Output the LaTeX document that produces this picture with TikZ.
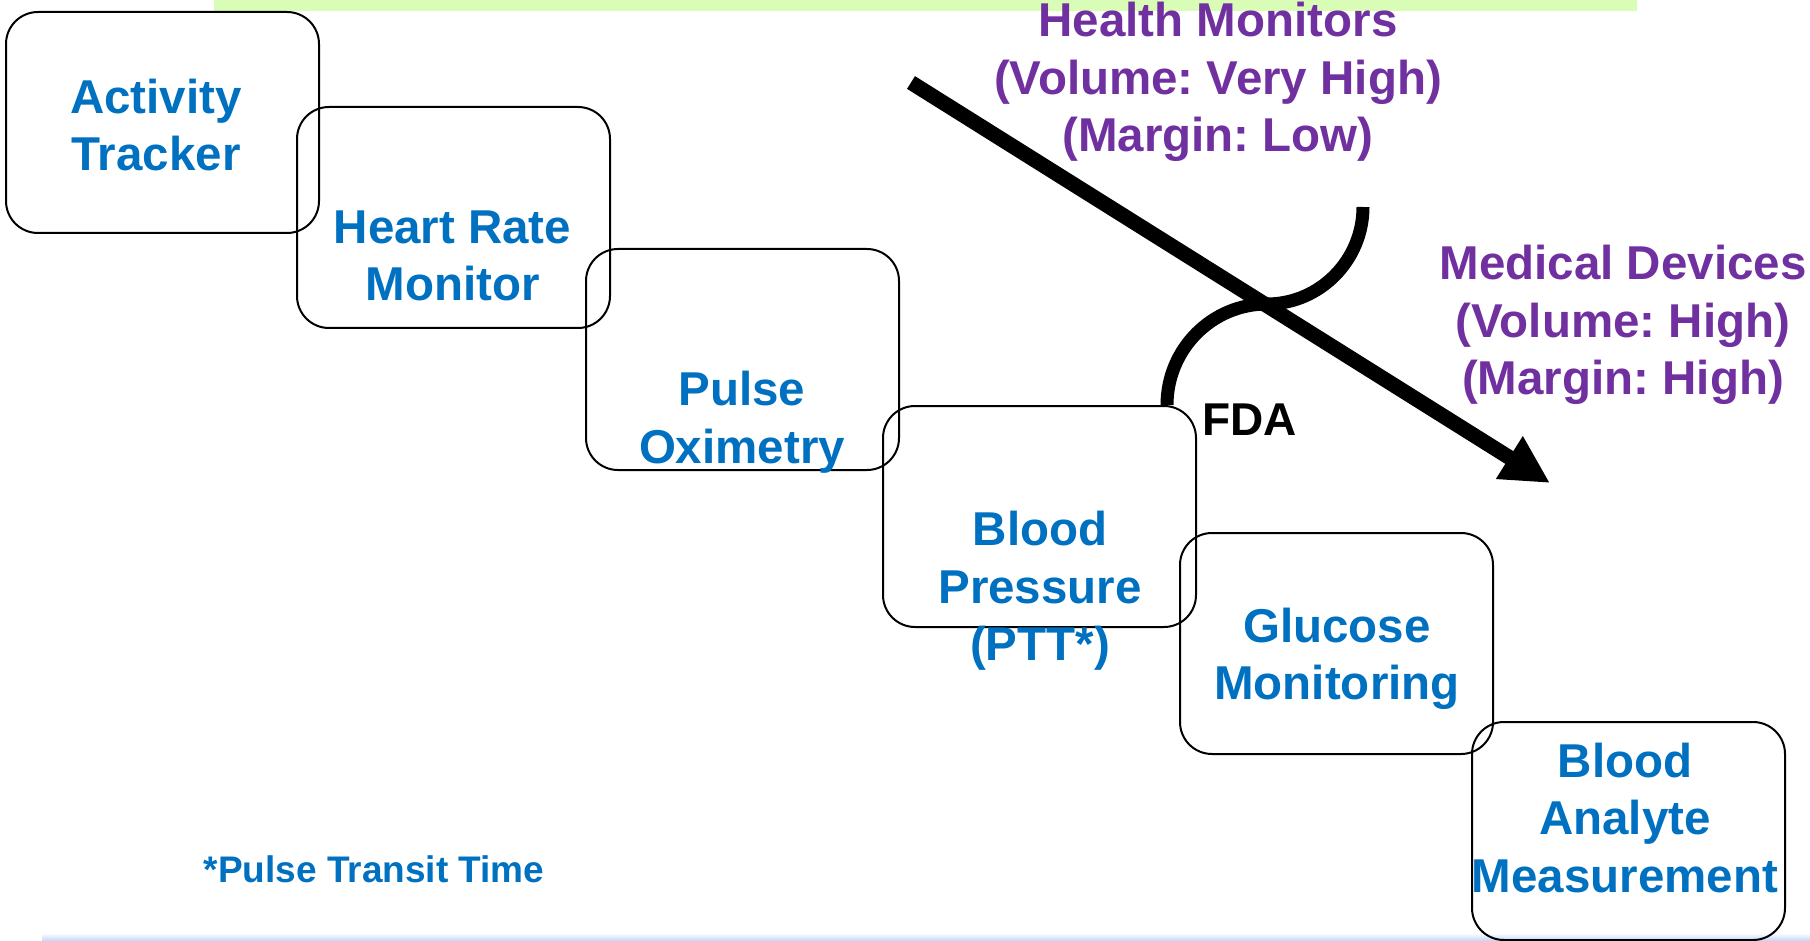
\documentclass[tikz,border=0pt]{standalone}
\usepackage{fontspec}
\setmainfont{Liberation Sans}
\usetikzlibrary{arrows.meta}
\definecolor{txtblue}{HTML}{0070C0}
\definecolor{txtpurple}{HTML}{7030A0}
\definecolor{barGreen}{HTML}{D9FCB6}
\definecolor{bandBlue}{HTML}{C2D4FA}
\frenchspacing
\begin{document}
\begin{tikzpicture}[x=1pt,y=-1pt,
  stagebox/.style={draw=black, line width=2pt, rounded corners=32pt, anchor=north west,
    minimum width=313pt, minimum height=221pt, inner sep=0pt, outer sep=0pt},
  lbl/.style={font=\bfseries\fontsize{47.5}{57.5}\selectfont, text=txtblue, align=center, inner sep=0pt},
  mkt/.style={font=\bfseries\fontsize{47.5}{57.5}\selectfont, text=txtpurple, align=center, inner sep=0pt},
  trend/.style={line width=15pt, -{Triangle[length=48pt,width=47pt]}},
  fdacurve/.style={line width=13pt}
]
\useasboundingbox (0,0) rectangle (1810,941);
% background strips
\fill[barGreen] (214,0) rectangle (1637,11);
\shade[top color=white, bottom color=bandBlue] (42,933) rectangle (1810,941);

% boxes
\node[stagebox] (b1) at (6,12) {};
\node[stagebox] (b2) at (297,107) {};
\node[stagebox] (b3) at (586,249) {};
\node[stagebox] (b4) at (883,406) {};
\node[stagebox] (b5) at (1180,533) {};
\node[stagebox, minimum height=218pt] (b6) at (1472,722) {};

% box labels
\node[lbl] (t1) at (156,125) {Activity\\Tracker};
\node[lbl] (t2) at (452.5,256) {Heart Rate\\Monitor};
\node[lbl] (t3) at (742,422) {Pulse\\Oximetry};
\node[lbl] (t4) at (1040,591) {Blood\\Pressure\\(PTT*)};
\node[lbl] (t5) at (1337,659) {Glucose\\Monitoring};
\node[lbl] (t6) at (1625,818) {Blood\\Analyte\\Measurement};

% market labels
\node[mkt] (hm) at (1218,82) {Health Monitors\\(Volume: Very High)\\(Margin: Low)};
\node[mkt] (md) at (1623,325) {Medical Devices\\(Volume: High)\\(Margin: High)};

% FDA curve
\coordinate (fa) at (1167,405);
\coordinate (fb) at (1267,304);
\coordinate (fc) at (1363,207);
\draw[fdacurve] (fa) .. controls (1167,349) and (1212,304) .. (fb)
                     .. controls (1320,304) and (1363,260) .. (fc);
\node[font=\bfseries\fontsize{46}{55}\selectfont, anchor=base, inner sep=0pt] (fda) at (1249.5,435) {FDA};

% trend arrow
\coordinate (as) at (911,82.5);
\coordinate (ae) at (1550,483);
\draw[trend] (as) -- (ae);

% footnote
\node[font=\bfseries\fontsize{37}{44}\selectfont, text=txtblue, anchor=base, inner sep=0pt] (note) at (374,882) {*Pulse Transit Time};
\end{tikzpicture}
\end{document}
